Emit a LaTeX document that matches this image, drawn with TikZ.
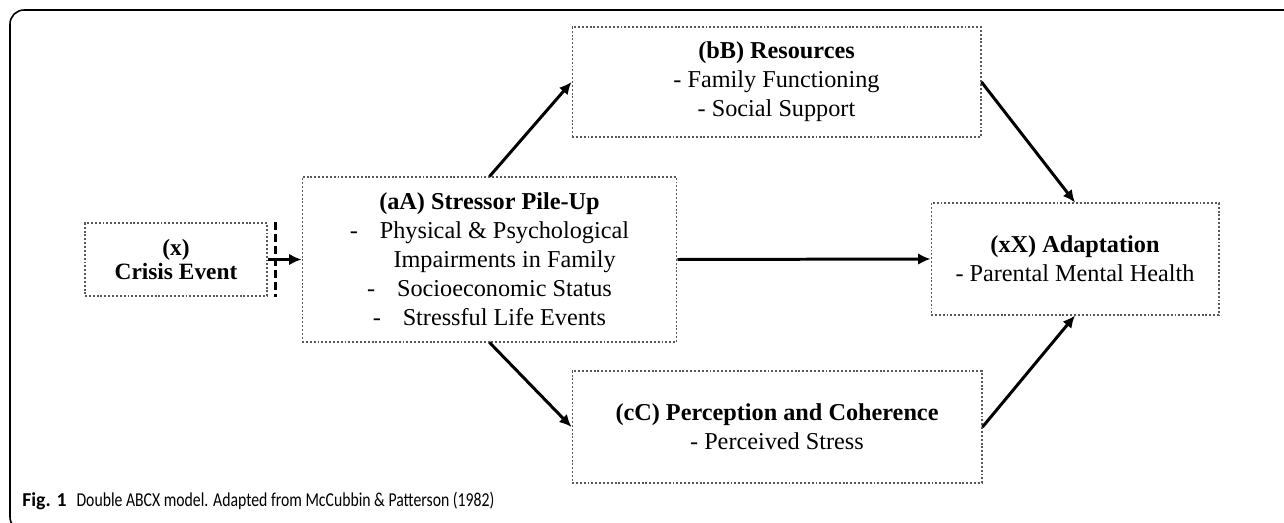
\documentclass[tikz,border=0pt]{standalone}
\usepackage{fontspec}
\setmainfont{Liberation Serif}
\newfontfamily\capfont{Carlito}
\usetikzlibrary{arrows.meta,calc}

\begin{document}
\begin{tikzpicture}[x=0.02cm,y=-0.02cm,>={Latex[length=7pt,width=6.5pt]},
  box/.style={draw=black!65, line width=0.6pt, dash pattern=on 1.1pt off 1.1pt,
    align=center, inner sep=0pt, font=\fontsize{13.8}{16.5}\selectfont},
  link/.style={->, line width=1.7pt}]
\useasboundingbox (0,0) rectangle (1284,523);
\begin{scope}
\clip (0,0) rectangle (1284,523);
\draw[line width=0.9pt, rounded corners=8] (1300,10) -- (10,10) -- (10,531) -- (40,531);
\end{scope}
% boxes
\node[box, minimum width=3.64cm, minimum height=1.46cm, font=\fontsize{13.3}{13.3}\selectfont\bfseries]
  (crisis) at (176,259.5) {(x)\\Crisis Event};
\node[box, minimum width=7.5cm, minimum height=3.3cm] (pileup) at (489.5,259.5)
  {\textbf{(aA) Stressor Pile-Up}\\
   -\hspace{0.9em}Physical \& Psychological\\
   \hspace*{1.25em}Impairments in Family\\
   -\hspace{0.9em}Socioeconomic Status\\
   -\hspace{0.9em}Stressful Life Events};
\node[box, minimum width=8.18cm, minimum height=2.2cm] (resources) at (776.5,82)
  {\textbf{(bB) Resources}\\- Family Functioning\\- Social Support};
\node[box, minimum width=5.76cm, minimum height=2.24cm] (adapt) at (1075,259)
  {\textbf{(xX) Adaptation}\\- Parental Mental Health};
\node[box, minimum width=8.2cm, minimum height=2.24cm] (percept) at (777,427)
  {\textbf{(cC) Perception and Coherence}\\- Perceived Stress};
% crisis onset
\draw[line width=1.6pt, dash pattern=on 4.5pt off 2.3pt]
  ($(crisis.north east)+(8,0)$) -- ($(crisis.south east)+(8,0)$);
\draw[link] (crisis.east) -- (pileup.west);
\draw[link] (pileup.north) -- (resources.west);
\draw[link] (pileup.east) -- (adapt.west);
\draw[link] (pileup.south) -- (percept.west);
\draw[link] (resources.east) -- (adapt.north);
\draw[link] (percept.east) -- (adapt.south);
% caption
\node[anchor=base west, inner sep=0pt, font=\capfont\fontsize{11.2}{12}\selectfont] (caption) at (22,506)
  {\textbf{Fig. 1}\hspace{0.5em}\scalebox{0.8}[1]{Double ABCX model. Adapted from McCubbin \& Patterson (1982)}};
\end{tikzpicture}
\end{document}
